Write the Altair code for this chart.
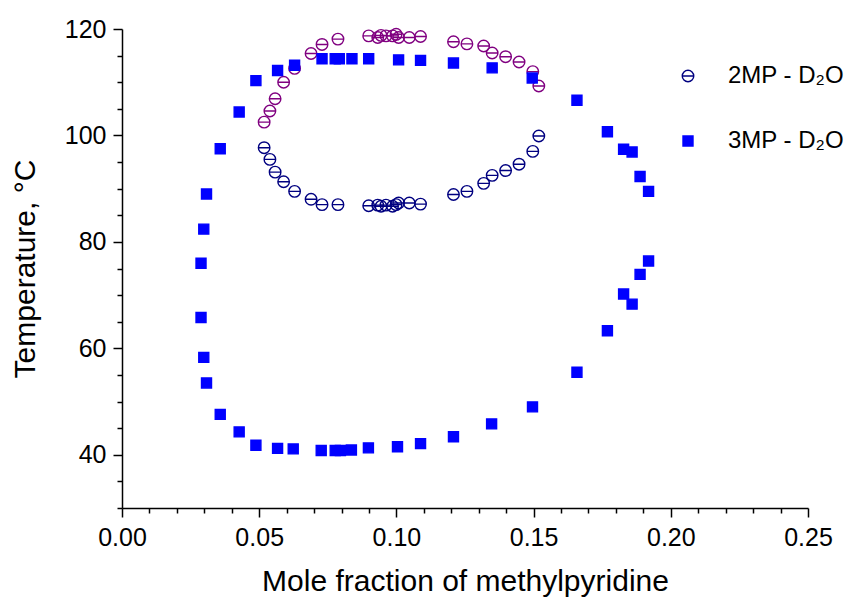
import altair as alt
import pandas as pd

# ---- data ----
x_2mp = [0.0518, 0.0539, 0.0558, 0.0589, 0.0629, 0.0689, 0.0729, 0.0787, 0.0899, 0.0932,
         0.0944, 0.0962, 0.0986, 0.0999, 0.1008, 0.1047, 0.1088, 0.1208, 0.1257, 0.1318,
         0.1349, 0.1398, 0.1447, 0.1497, 0.1519]
t_2mp_upper = [102.5, 104.6, 106.9, 110.0, 112.6, 115.4, 117.1, 118.1, 118.7, 118.4,
               118.8, 118.7, 118.7, 119.0, 118.4, 118.4, 118.6, 117.6, 117.2, 116.8,
               115.5, 114.8, 113.8, 112.0, 109.3]
t_2mp_lower = [97.7, 95.5, 93.1, 91.3, 89.5, 88.0, 87.0, 87.0, 86.8, 86.9,
               86.7, 86.9, 86.7, 87.0, 87.3, 87.3, 87.1, 88.9, 89.5, 91.0,
               92.5, 93.4, 94.6, 97.0, 99.9]

x_3mp = [0.0427, 0.0488, 0.0567, 0.0629, 0.0729, 0.0777, 0.0792, 0.0838, 0.0899, 0.1008,
         0.1088, 0.1208, 0.1349, 0.1495,
         0.1658, 0.1769, 0.1828, 0.1859, 0.1888, 0.1919, 0.1919, 0.1888, 0.1828, 0.1859,
         0.1769, 0.1658,
         0.1496, 0.1347, 0.1208, 0.1088, 0.1004, 0.0898, 0.0836, 0.0796, 0.0777, 0.0726,
         0.0624, 0.0567, 0.0488, 0.0427,
         0.0358, 0.0308, 0.0298, 0.0288, 0.0288, 0.0298, 0.0308, 0.0358]
t_3mp = [104.4, 110.3, 112.2, 113.2, 114.4, 114.4, 114.4, 114.4, 114.4, 114.2,
         114.1, 113.6, 112.7, 110.8,
         106.6, 100.7, 97.4, 96.9, 92.3, 89.5, 76.4, 73.9, 70.2, 68.3,
         63.3, 55.5,
         49.0, 45.8, 43.4, 42.1, 41.5, 41.3, 40.9, 40.8, 40.8, 40.8,
         41.1, 41.2, 41.8, 44.3,
         47.6, 53.5, 58.3, 65.8, 76.0, 82.4, 89.0, 97.5]

K2 = "2MP - D\u2082O"
K3 = "3MP - D\u2082O"
KU = "2MP (upper branch)"

x_ticks = [round(i * 0.01, 2) for i in range(26)]
y_ticks = list(range(30, 121, 5))

rows = []
for xv, tv in zip(x_2mp, t_2mp_upper):
    rows.append({"x": xv, "t": tv, "key": KU})
for xv, tv in zip(x_2mp, t_2mp_lower):
    rows.append({"x": xv, "t": tv, "key": K2})
for xv, tv in zip(x_3mp, t_3mp):
    rows.append({"x": xv, "t": tv, "key": K3})
df = pd.DataFrame(rows)

FONT = "Liberation Sans"
# open circle with a horizontal bar, slightly larger than the unit square
circle_bar = "M-1.15,0A1.15,1.15,0,1,1,1.15,0A1.15,1.15,0,1,1,-1.15,0ZM-1.15,0L1.15,0"
domain = [K2, K3, KU]

leg = alt.Legend(
    values=[K2, K3], title=None, orient="none", legendX=554, legendY=35,
    padding=0, labelFontSize=24, labelFont=FONT, labelColor="black", labelLimit=400,
    symbolSize=100, symbolStrokeWidth=1.4, rowPadding=41, labelOffset=28,
)

x_major = "abs(datum.value*20 - round(datum.value*20)) < 0.001"
y_major = "datum.value % 20 == 0"

chart = alt.Chart(df).mark_point(filled=False, opacity=1, strokeWidth=1.4, size=100).encode(
    x=alt.X("x:Q",
            scale=alt.Scale(domain=[0, 0.25], nice=False, zero=False),
            axis=alt.Axis(values=x_ticks, title="Mole fraction of methylpyridine",
                          labelExpr=f"{x_major} ? format(datum.value, '.2f') : ''",
                          tickSize={"condition": {"test": x_major, "value": 9}, "value": 5},
                          labelPadding=8, titlePadding=16, labelOverlap=False,
                          labelFlush=False)),
    y=alt.Y("t:Q",
            scale=alt.Scale(domain=[30, 120], nice=False, zero=False),
            axis=alt.Axis(values=y_ticks, title="Temperature, \u00b0C",
                          labelExpr=f"{y_major} ? format(datum.value, 'd') : ''",
                          tickSize={"condition": {"test": y_major, "value": 9}, "value": 5},
                          labelPadding=7, titlePadding=24, labelOverlap=False,
                          labelFlush=False)),
    shape=alt.Shape("key:N", scale=alt.Scale(domain=domain, range=[circle_bar, "square", circle_bar]), legend=leg),
    stroke=alt.Stroke("key:N", scale=alt.Scale(domain=domain, range=["#000080", "#0000FF", "#800080"]), legend=leg),
    fill=alt.Fill("key:N", scale=alt.Scale(domain=domain, range=["transparent", "#0000FF", "transparent"]), legend=leg),
).properties(
    width=686, height=479,
    autosize=alt.AutoSizeParams(type="none"),
    padding={"left": 122, "top": 29, "right": 37, "bottom": 90},
    background="white",
).configure_view(stroke=None).configure_axis(
    grid=False, domainColor="black", domainWidth=1.5, tickColor="black", tickWidth=1.5,
    labelFont=FONT, labelFontSize=25, labelColor="black",
    titleFont=FONT, titleFontSize=30, titleFontWeight="normal", titleColor="black",
)

chart.save("out.html", embed_options={"renderer": "svg", "actions": False})
